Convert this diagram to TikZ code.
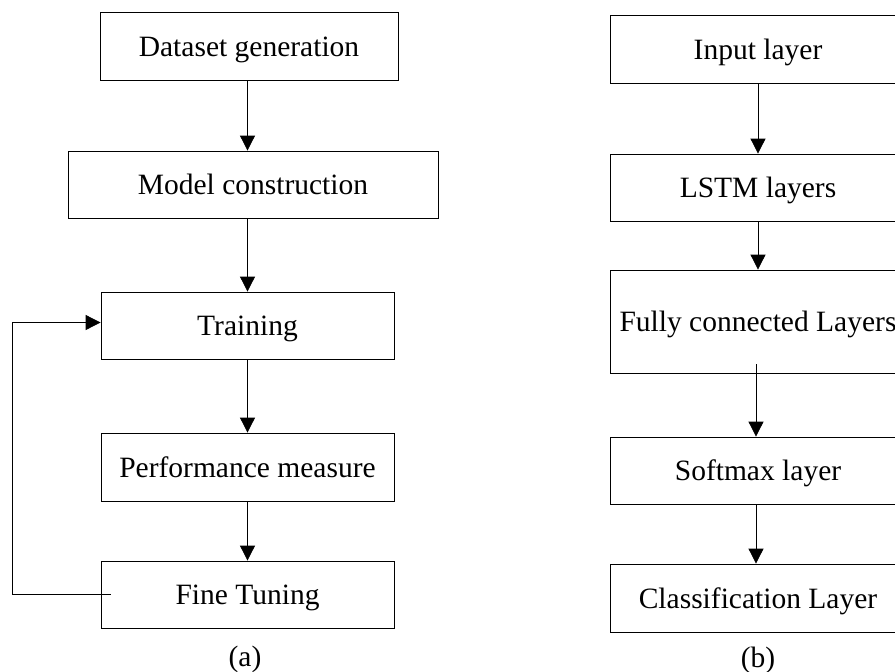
\documentclass[tikz,border=0pt]{standalone}
\usepackage{fontspec}
\setmainfont{Liberation Serif}
\usetikzlibrary{arrows.meta,calc}
\tikzset{
  box/.style={draw=black, line width=0.8pt, rectangle, inner sep=0pt, align=center,
    text height=20pt, text depth=0pt,
    font=\fontsize{29.5}{34}\selectfont},
  arr/.style={draw=black, line width=0.8pt, -{Triangle[length=15pt,width=15pt]}},
  sublabel/.style={font=\fontsize{29.5}{34}\selectfont, inner sep=0pt},
}
\begin{document}
\begin{tikzpicture}[x=1pt,y=-1pt]
\useasboundingbox (0,0) rectangle (895,672);
\clip (0,0) rectangle (895,672);
% left column
\node[box, minimum width=298pt, minimum height=68pt] (ds) at (249,46) {Dataset generation};
\node[box, minimum width=370pt, minimum height=67pt] (mc) at (253,184.5) {Model construction};
\node[box, minimum width=293pt, minimum height=67pt] (tr) at (247.5,325.5) {Training};
\node[box, minimum width=293pt, minimum height=68pt] (pm) at (247.5,467) {Performance measure};
\node[box, minimum width=293pt, minimum height=67pt] (ft) at (247.5,594.5) {Fine Tuning};
\node[sublabel] (la) at (245,659) {(a)};
\coordinate (lp) at (12,0);
\draw[arr] (ds.south -| tr.center) -- (mc.north -| tr.center);
\draw[arr] (mc.south -| tr.center) -- (tr.north);
\draw[arr] (tr.south) -- (pm.north);
\draw[arr] (pm.south) -- (ft.north);
\draw[arr] ([xshift=10pt]ft.west) -- (ft.west -| lp) |- ([yshift=3pt]tr.west);
% right column
\node[box, minimum width=296pt, minimum height=68pt] (il) at (758,49) {Input layer};
\node[box, minimum width=296pt, minimum height=67pt] (ls) at (758,187.5) {LSTM layers};
\node[box, minimum width=296pt, minimum height=103pt] (fc) at (758,321.5) {Fully connected Layers};
\node[box, minimum width=296pt, minimum height=67pt] (sm) at (758,470.5) {Softmax layer};
\node[box, minimum width=296pt, minimum height=68pt] (cl) at (758,598) {Classification Layer};
\node[sublabel] (lb) at (758,660) {(b)};
\coordinate (rx) at (756,0);
\draw[arr] (il.south) -- (ls.north);
\draw[arr] (ls.south) -- (fc.north);
\draw[arr] ([yshift=9pt]fc.south -| rx) -- (sm.north -| rx);
\draw[arr] (sm.south -| rx) -- (cl.north -| rx);
\end{tikzpicture}
\end{document}
